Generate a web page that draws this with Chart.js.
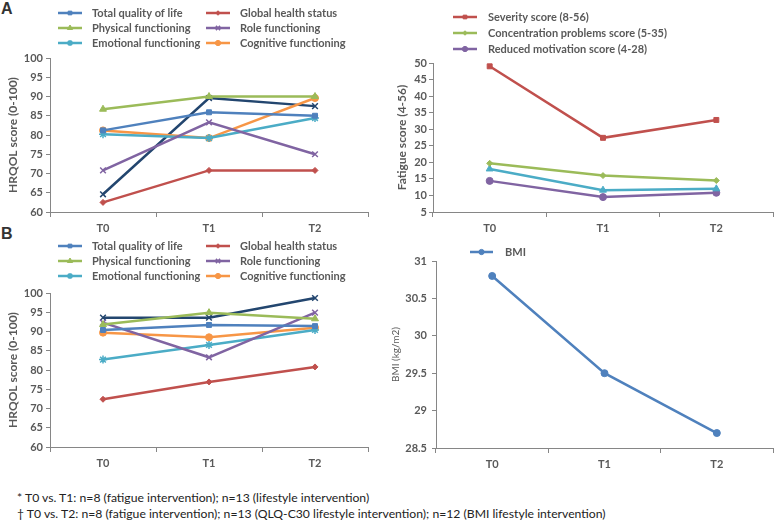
<!DOCTYPE html>
<html>
<head>
<meta charset="utf-8">
<script src="https://cdn.jsdelivr.net/npm/chart.js@4.4.1/dist/chart.umd.min.js"></script>
<style>
  body { margin: 0; background: #fff; width: 778px; height: 521px; position: relative; overflow: hidden; }
  .panel { position: absolute; }
  .tag { position: absolute; font: bold 16px 'Liberation Sans', sans-serif; color: #333; }
  .notes { position: absolute; left: 17px; top: 490px; font: 12.2px Lato, sans-serif; color: #222; line-height: 16px; }
</style>
</head>
<body>
<div class="tag" style="left:1px;top:0px">A</div>
<div class="tag" style="left:1px;top:225px">B</div>

<canvas class="panel" id="hrqolA" width="385" height="240" style="left:0;top:0"></canvas>
<canvas class="panel" id="fatigueA" width="388" height="240" style="left:390px;top:0"></canvas>
<canvas class="panel" id="hrqolB" width="385" height="240" style="left:0;top:235px"></canvas>
<canvas class="panel" id="bmiB" width="388" height="241" style="left:390px;top:235px"></canvas>

<div class="notes">
  <div>* T0 vs. T1: n=8 (fatigue intervention); n=13 (lifestyle intervention)</div>
  <div>† T0 vs. T2: n=8 (fatigue intervention); n=13 (QLQ-C30 lifestyle intervention); n=12 (BMI lifestyle intervention)</div>
</div>

<script>
// Data
const timepoints = ['T0', 'T1', 'T2'];

const hrqolLabels = ['Total quality of life', 'Global health status', 'Physical functioning',
  'Role functioning', 'Emotional functioning', 'Cognitive functioning', 'Social functioning'];

// panel A (fatigue intervention)
const totalQolA = [81.2, 85.9, 85.0];
const globalHealthA = [62.5, 70.8, 70.8];
const physicalA = [86.7, 90.0, 90.0];
const roleA = [70.8, 83.3, 75.0];
const emotionalA = [80.2, 79.2, 84.4];
const cognitiveA = [81.2, 79.2, 89.6];
const socialA = [64.6, 89.6, 87.5];

// panel A fatigue scores
const fatigueLabels = ['Severity score (8-56)', 'Concentration problems score (5-35)',
  'Physical activity score', 'Reduced motivation score (4-28)'];
const severity = [49.0, 27.4, 32.8];
const concentration = [19.7, 16.0, 14.5];
const physActivity = [18.0, 11.6, 12.0];
const motivation = [14.4, 9.5, 10.8];

// panel B (lifestyle intervention)
const totalQolB = [90.4, 91.7, 91.4];
const globalHealthB = [72.4, 76.9, 80.8];
const physicalB = [91.8, 94.9, 93.3];
const roleB = [92.3, 83.3, 94.9];
const emotionalB = [82.7, 86.5, 90.4];
const cognitiveB = [89.7, 88.5, 91.0];
const socialB = [93.6, 93.6, 98.7];

const bmi = [30.8, 29.5, 28.7];

// tick labels
const hrqolTicks = [60, 65, 70, 75, 80, 85, 90, 95, 100];
const fatigueTicks = [5, 10, 15, 20, 25, 30, 35, 40, 45, 50];
const bmiTicks = [28.5, 29, 29.5, 30, 30.5, 31];

const axisColor = '#868686';
const textColor = '#595959';
const boldFont = { family: 'Lato, sans-serif', size: 11, weight: 'bold' };

// legend drawn as Excel-style line + small marker
const lineLegend = {
  id: 'lineLegend',
  afterDraw(chart, args, opts) {
    if (!opts.columns) return;
    const ctx = chart.ctx;
    ctx.save();
    ctx.font = opts.font;
    ctx.textBaseline = 'middle';
    let n = 0;
    chart.data.datasets.forEach(ds => {
      if (ds.inLegend === false) return;
      const col = n % opts.columns.length;
      const row = Math.floor(n / opts.columns.length);
      n++;
      const x = opts.columns[col];
      const y = opts.rows[row];
      ctx.strokeStyle = ds.borderColor;
      ctx.lineWidth = ds.borderWidth;
      ctx.beginPath();
      ctx.moveTo(x, y);
      ctx.lineTo(x + opts.lineLength, y);
      ctx.stroke();
      ctx.fillStyle = ds.pointBackgroundColor;
      ctx.strokeStyle = ds.pointBorderColor;
      ctx.lineWidth = ds.pointBorderWidth;
      Chart.helpers.drawPoint(ctx, {
        pointStyle: ds.pointStyle, radius: ds.pointRadius * 0.75,
        borderWidth: ds.pointBorderWidth, rotation: 0
      }, x + opts.lineLength / 2, y);
      ctx.fillStyle = textColor;
      ctx.fillText(ds.label, x + opts.textOffset, y);
    });
    ctx.restore();
  }
};

function series(label, values, color, style, radius, extra) {
  return Object.assign({
    label: label,
    data: values,
    borderColor: color,
    backgroundColor: color,
    pointBackgroundColor: color,
    pointBorderColor: color,
    pointStyle: style,
    pointRadius: radius,
    pointBorderWidth: (style === 'crossRot' || style === 'star') ? 1.5 : 1,
    borderWidth: 2.5,
    tension: 0
  }, extra || {});
}

function hrqolSets(v) {
  return [
    series(hrqolLabels[0], v[0], '#4F81BD', 'rect', 3.5),
    series(hrqolLabels[1], v[1], '#C0504D', 'rectRot', 3),
    series(hrqolLabels[2], v[2], '#9BBB59', 'triangle', 4),
    series(hrqolLabels[3], v[3], '#8064A2', 'crossRot', 4),
    series(hrqolLabels[4], v[4], '#4BACC6', 'star', 4),
    series(hrqolLabels[5], v[5], '#F79646', 'circle', 3.5),
    series(hrqolLabels[6], v[6], '#23466F', 'crossRot', 4, { inLegend: false })
  ];
}

function makeOptions(cfg) {
  return {
    responsive: false,
    animation: false,
    layout: { padding: cfg.padding },
    plugins: {
      legend: { display: false },
      tooltip: { enabled: false },
      lineLegend: cfg.legend
    },
    scales: {
      x: {
        type: 'category',
        offset: true,
        grid: { offset: true, drawOnChartArea: false, drawTicks: true, tickLength: 5, color: axisColor },
        border: { color: axisColor, width: 1 },
        ticks: { font: boldFont, color: textColor, padding: 5 },
        afterFit(s) { s.height = 28; }
      },
      y: {
        min: cfg.ticks[0],
        max: cfg.ticks[cfg.ticks.length - 1],
        afterBuildTicks(s) { s.ticks = cfg.ticks.map(v => ({ value: v })); },
        grid: { drawOnChartArea: false, drawTicks: true, tickLength: 4, color: axisColor },
        border: { color: axisColor, width: 1 },
        ticks: {
          font: cfg.tickFont || boldFont, color: textColor, padding: cfg.tickPad,
          callback: v => String(v)
        },
        title: {
          display: true, text: cfg.title, color: textColor,
          font: cfg.titleFont || { family: 'Lato, sans-serif', size: 12, weight: 'bold' },
          padding: { top: cfg.titlePad, bottom: 0 }
        },
        afterFit(s) { s.width = cfg.axisWidth; }
      }
    }
  };
}

const hrqolLegend = {
  columns: [58, 206], rows: [13, 28, 43], lineLength: 24, textOffset: 34,
  font: 'bold 11px Lato, sans-serif'
};

new Chart(document.getElementById('hrqolA'), {
  type: 'line',
  data: {
    labels: timepoints,
    datasets: hrqolSets([totalQolA, globalHealthA, physicalA, roleA, emotionalA, cognitiveA, socialA])
  },
  options: makeOptions({
    padding: { left: 0, top: 58, right: 17, bottom: 0 },
    ticks: hrqolTicks, axisWidth: 50, tickPad: 3, titlePad: 6,
    title: 'HRQOL score (0-100)', legend: hrqolLegend
  }),
  plugins: [lineLegend]
});

new Chart(document.getElementById('hrqolB'), {
  type: 'line',
  data: {
    labels: timepoints,
    datasets: hrqolSets([totalQolB, globalHealthB, physicalB, roleB, emotionalB, cognitiveB, socialB])
  },
  options: makeOptions({
    padding: { left: 0, top: 58, right: 17, bottom: 0 },
    ticks: hrqolTicks, axisWidth: 50, tickPad: 3, titlePad: 6,
    title: 'HRQOL score (0-100)',
    legend: Object.assign({}, hrqolLegend, { rows: [11, 26, 41] })
  }),
  plugins: [lineLegend]
});

new Chart(document.getElementById('fatigueA'), {
  type: 'line',
  data: {
    labels: timepoints,
    datasets: [
      series(fatigueLabels[0], severity, '#C0504D', 'rect', 3.5),
      series(fatigueLabels[1], concentration, '#9BBB59', 'rectRot', 3),
      series(fatigueLabels[2], physActivity, '#4BACC6', 'triangle', 4, { inLegend: false }),
      series(fatigueLabels[3], motivation, '#8064A2', 'circle', 3.5)
    ]
  },
  options: makeOptions({
    padding: { left: 0, top: 63, right: 3, bottom: 0 },
    ticks: fatigueTicks, axisWidth: 43, tickPad: 2, titlePad: 5,
    title: 'Fatigue score (4-56)',
    legend: { columns: [63], rows: [17, 33, 49], lineLength: 24, textOffset: 35, font: 'bold 11px Lato, sans-serif' }
  }),
  plugins: [lineLegend]
});

new Chart(document.getElementById('bmiB'), {
  type: 'line',
  data: {
    labels: timepoints,
    datasets: [series('BMI', bmi, '#4F81BD', 'circle', 3.5)]
  },
  options: makeOptions({
    padding: { left: 0, top: 26, right: 1, bottom: 0 },
    ticks: bmiTicks, axisWidth: 46, tickPad: 5, titlePad: 0,
    title: 'BMI (kg/m2)',
    titleFont: { family: 'Lato, sans-serif', size: 10 },
    legend: { columns: [80], rows: [17], lineLength: 23, textOffset: 35, font: 'bold 11px Lato, sans-serif' }
  }),
  plugins: [lineLegend]
});
</script>
</body>
</html>
